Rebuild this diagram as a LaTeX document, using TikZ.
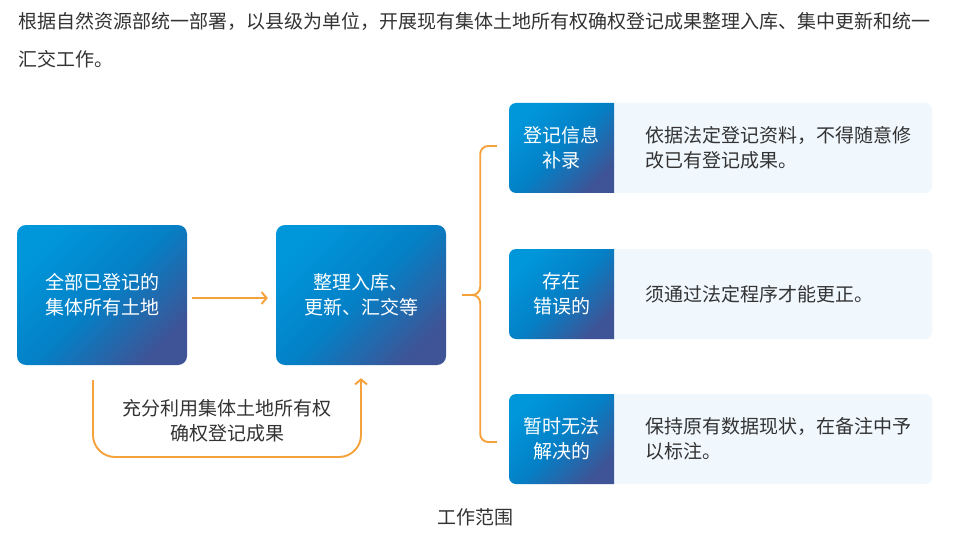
\documentclass[tikz,border=0pt]{standalone}
\usepackage{fontspec}
\setmainfont{Noto Sans CJK SC}
\usetikzlibrary{arrows.meta}
\definecolor{inkgray}{RGB}{51,51,51}
\definecolor{flowink}{RGB}{245,162,60}
\definecolor{boxlight}{RGB}{0,150,218}
\definecolor{boxmid}{RGB}{4,128,198}
\definecolor{boxdark}{RGB}{62,84,150}
\definecolor{panelfill}{RGB}{240,247,253}

\begin{document}
\begin{tikzpicture}[x=1pt, y=1pt,
    txt/.style={font=\fontsize{19}{25}\selectfont, text=inkgray, inner sep=0pt},
    blueshade/.style={top color=boxlight, bottom color=boxdark, middle color=boxmid, shading angle=45},
    bigbox/.style={txt, blueshade, text=white, align=center, minimum width=170pt, minimum height=140pt, rounded corners=9pt},
    labtxt/.style={txt, text=white, align=center, minimum width=105pt, minimum height=90pt},
    panel/.style={fill=panelfill, rounded corners=7pt, minimum width=332pt, minimum height=90pt},
    flow/.style={flowink, line width=1.9pt},
    tip/.style={-{Straight Barb[length=5pt, width=12pt]}}]
  \fill[white] (0,0) rectangle (960,555);
  \useasboundingbox (0,0) rectangle (960,555);

  % intro text
  \node[txt, anchor=base west] (intro1) at (18,526) {根据自然资源部统一部署，以县级为单位，开展现有集体土地所有权确权登记成果整理入库、集中更新和统一};
  \node[txt, anchor=base west] (intro2) at (18,488) {汇交工作。};

  % left: two steps
  \node[bigbox] (A) at (102,260) {全部已登记的\\集体所有土地};
  \node[bigbox] (B) at (361,260) {整理入库、\\更新、汇交等};
  \draw[flow, tip] ([xshift=5pt, yshift=-3pt]A.east) -- ([xshift=-8pt, yshift=-3pt]B.west);

  \coordinate (la) at ([xshift=-9pt, yshift=-15pt]A.south);
  \coordinate (lb) at ([yshift=-13pt]B.south);
  \coordinate (lbot) at (0,98);
  \draw[flow, tip, rounded corners=22pt] (la) -- (la |- lbot) -- (lb |- lbot) -- (lb);
  \node[txt, align=center] (note) at (227,134) {充分利用集体土地所有权\\确权登记成果};

  % right: three cases
  \foreach \yy/\nm/\lab/\desc in {407/r1/{登记信息\\补录}/{依据法定登记资料，不得随意修\\改已有登记成果。},
      261/r2/{存在\\错误的}/{须通过法定程序才能更正。},
      116/r3/{暂时无法\\解决的}/{保持原有数据现状，在备注中予\\以标注。}} {
    \node[panel] (\nm p) at (766,\yy) {};
    \shade[blueshade] (614,\yy+45) -- (516,\yy+45) arc[start angle=90, end angle=180, radius=7]
      -- (509,\yy-38) arc[start angle=180, end angle=270, radius=7] -- (614,\yy-45) -- cycle;
    \node[labtxt] (\nm) at (561.5,\yy) {\lab};
    \node[txt, anchor=west, align=left] (\nm d) at (645,\yy) {\desc};
  }

  % brace
  \coordinate (bt) at ([xshift=-12pt, yshift=2pt]r1.west);
  \coordinate (bb) at ([xshift=-12pt, yshift=-3pt]r3.west);
  \coordinate (bm) at ([xshift=16pt]B.east);
  \coordinate (bx) at ([xshift=18pt]bm);
  \draw[flow, rounded corners=8pt] (bt) -- (bt -| bx) -- (bx) -- (bm);
  \draw[flow, rounded corners=8pt] (bb) -- (bb -| bx) -- (bx) -- (bm);

  \node[txt] (caption) at (475,38) {工作范围};
\end{tikzpicture}
\end{document}
